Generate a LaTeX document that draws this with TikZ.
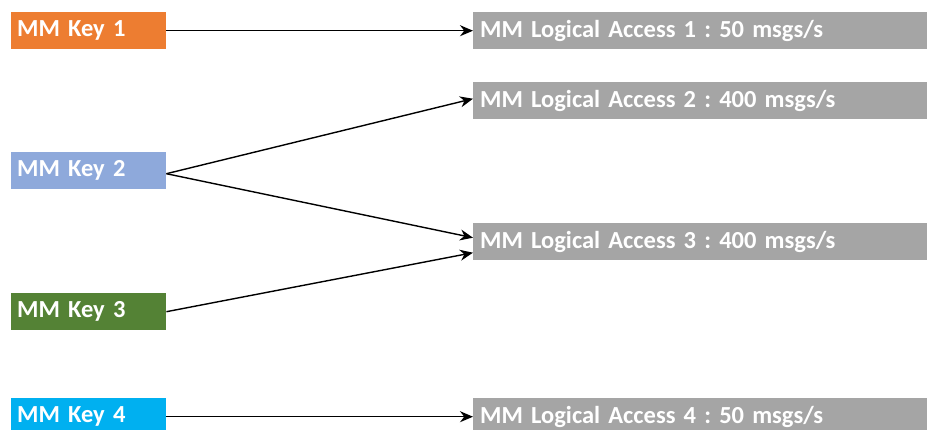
\documentclass[tikz,border=0pt]{standalone}
\usepackage{fontspec}
\setmainfont{Carlito}
\usetikzlibrary{arrows.meta}
\definecolor{korange}{HTML}{ED7D31}
\definecolor{kblue}{HTML}{8EA9DB}
\definecolor{kgreen}{HTML}{548235}
\definecolor{kcyan}{HTML}{00B0F0}
\definecolor{lgray}{HTML}{A5A5A5}
\tikzset{
  keybox/.style={anchor=north west, minimum width=155pt, minimum height=37pt, inner xsep=6pt, inner ysep=0pt,
    text=white, font=\frenchspacing\fontsize{24.5}{26}\selectfont\bfseries, align=left, text width=143pt},
  accbox/.style={anchor=north west, fill=lgray, minimum width=460pt, minimum height=37pt, inner xsep=7pt, inner ysep=0pt,
    text=white, font=\frenchspacing\fontsize{24.5}{26}\selectfont\bfseries, align=left, text width=446pt},
  conn/.style={draw=black, line width=1.4pt, -{Stealth[length=13pt,width=11pt]}}
}
\begin{document}
\begin{tikzpicture}[x=1pt,y=-1pt]
\useasboundingbox (0,0) rectangle (927,429);
\clip (0,0) rectangle (927,429);
\node[keybox, fill=korange] (k1) at (11,12) {MM Key 1};
\node[keybox, fill=kblue] (k2) at (11,152) {MM Key 2};
\node[keybox, fill=kgreen] (k3) at (11,293) {MM Key 3};
\node[keybox, fill=kcyan] (k4) at (11,398) {MM Key 4};
\node[accbox] (a1) at (473,12) {MM Logical Access 1 : 50 msgs/s};
\node[accbox] (a2) at (473,82) {MM Logical Access 2 : 400 msgs/s};
\node[accbox] (a3) at (473,223) {MM Logical Access 3 : 400 msgs/s};
\node[accbox] (a4) at (473,398) {MM Logical Access 4 : 50 msgs/s};
\draw[conn] (k1.east) -- (a1.west);
\draw[conn] ([yshift=-3pt]k2.east) -- ([yshift=2pt]a2.west);
\draw[conn] ([yshift=-3pt]k2.east) -- ([yshift=4pt]a3.west);
\draw[conn] (k3.east) -- ([yshift=-11pt]a3.west);
\draw[conn] (k4.east) -- (a4.west);
\end{tikzpicture}
\end{document}
